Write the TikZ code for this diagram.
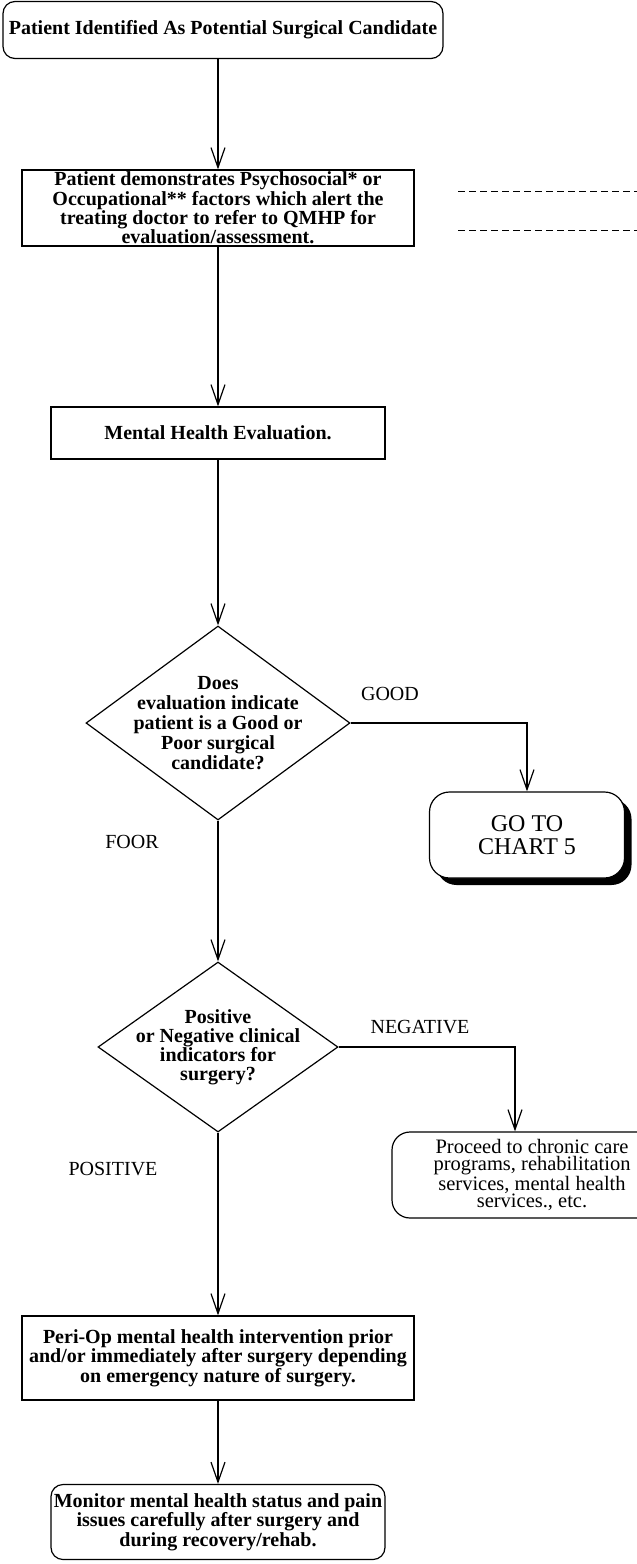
\documentclass[tikz,border=0pt]{standalone}
\usepackage{fontspec}
\setmainfont{Liberation Serif}
\usetikzlibrary{arrows.meta,shapes.geometric,shadows}

\begin{document}
\begin{tikzpicture}[x=1pt,y=-1pt,line width=1.2pt,
    >={Straight Barb[length=20pt,width=14pt]},
    box/.style={draw,align=center,inner sep=0pt,font=\fontsize{20}{18}\selectfont\bfseries},
    rbox/.style={box,rounded corners=12pt},
    dec/.style={draw,diamond,inner sep=0pt},
    dectext/.style={align=center,font=\fontsize{20}{20}\selectfont\bfseries},
    lbl/.style={font=\fontsize{20}{20}\selectfont}]
\useasboundingbox (0,0) rectangle (637,1564);
\node[rbox,minimum width=440pt,minimum height=57pt] (start) at (223,30) {Patient Identified As Potential Surgical Candidate};
\node[box,minimum width=392pt,minimum height=76pt] (psy) at (218,208) {Patient demonstrates Psychosocial* or\\Occupational** factors which alert the\\treating doctor to refer to QMHP for\\evaluation/assessment.};
\draw[dashed,dash pattern=on 7pt off 4pt,line width=1pt] (458,191) -- (637,191) (458,230) -- (637,230);
\node[box,minimum width=334pt,minimum height=52pt] (mhe) at (218,433) {Mental Health Evaluation.};
\node[dec,minimum width=264pt,minimum height=194pt,
    label={[dectext]center:Does\\evaluation indicate\\patient is a Good or\\Poor surgical\\candidate?}] (dq1) at (218,723) {};
\node[draw,fill=white,rounded corners=20pt,align=center,minimum width=195pt,minimum height=86pt,
    font=\fontsize{24}{23}\selectfont,
    drop shadow={shadow xshift=7pt,shadow yshift=-7pt,opacity=1,fill=black}] (goto) at (527,835) {GO TO\\CHART 5};
\node[dec,minimum width=240pt,minimum height=170pt,
    label={[dectext,font=\fontsize{20}{19}\selectfont\bfseries]center:Positive\\or Negative clinical\\indicators for\\surgery?}] (dq2) at (218,1047) {};
\node[draw,rounded corners=18pt,align=center,minimum width=280pt,minimum height=86pt,
    font=\fontsize{20.5}{17.5}\selectfont] (proceed) at (532,1175) {Proceed to chronic care\\programs, rehabilitation\\services, mental health\\services., etc.};
\node[box,minimum width=392pt,minimum height=84pt] (periop) at (218,1358) {Peri-Op mental health intervention prior\\and/or immediately after surgery depending\\on emergency nature of surgery.};
\node[rbox,minimum width=334pt,minimum height=75pt] (monitor) at (218,1522) {Monitor mental health status and pain\\issues carefully after surgery and\\during recovery/rehab.};
\node[lbl] (good) at (390,694) {GOOD};
\node[lbl] (poor) at (132,842) {FOOR};
\node[lbl] (neg) at (420,1027) {NEGATIVE};
\node[lbl] (pos) at (113,1169) {POSITIVE};
\draw[->] (start.south -| psy) -- (psy);
\draw[->] (psy) -- (mhe);
\draw[->] (mhe) -- (dq1);
\draw[->] (dq1.east) -| (goto.north);
\draw[->] (dq1) -- (dq2);
\draw[->] (dq2.east) -| ([xshift=-17pt]proceed.north);
\draw[->] (dq2) -- (periop);
\draw[->] (periop) -- (monitor);
\end{tikzpicture}
\end{document}
